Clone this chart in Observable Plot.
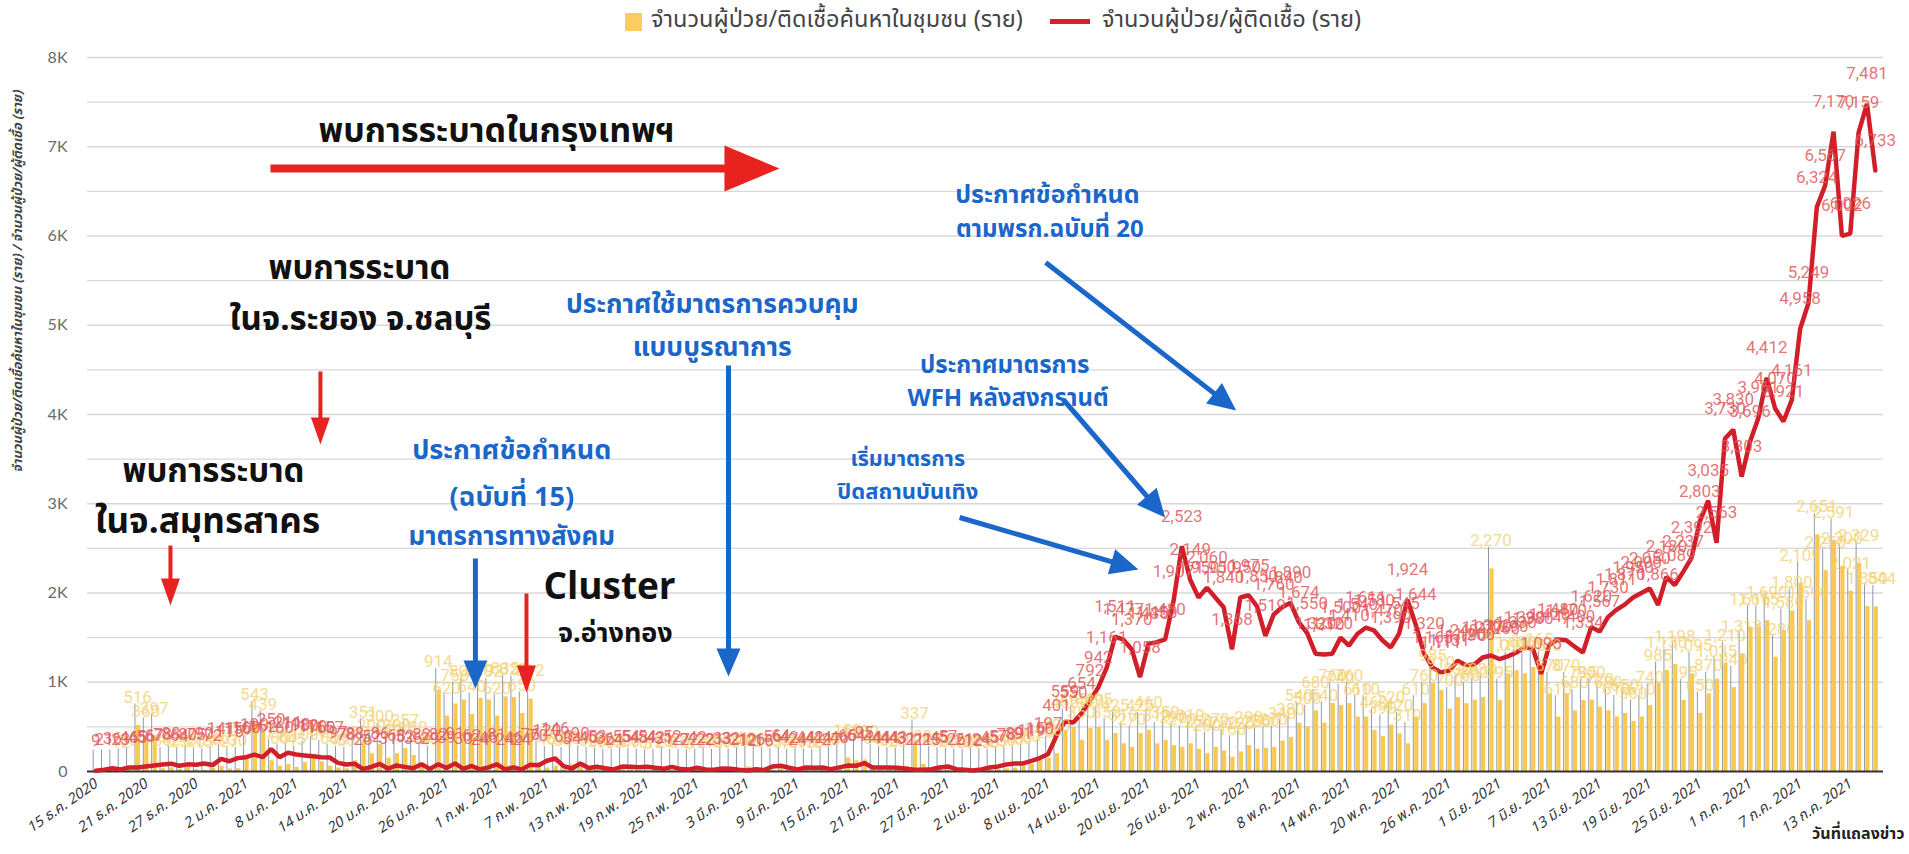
<!DOCTYPE html>
<html><head><meta charset="utf-8">
<script src="https://cdn.jsdelivr.net/npm/d3@7"></script>
<script src="https://cdn.jsdelivr.net/npm/@observablehq/plot@0.6"></script>
<style>
html,body{margin:0;padding:0;background:#fff;}
body{width:1909px;height:854px;overflow:hidden;position:relative;font-family:"Noto Sans Thai","Noto Sans","Open Sans",sans-serif;}
#legend{position:absolute;left:0;top:0;width:1909px;height:44px;z-index:2;}
#legend .sw{position:absolute;}
#legend .lt{position:absolute;font-size:23.5px;color:#444;line-height:28px;white-space:nowrap;}
</style></head><body>
<div id="legend">
  <div class="sw" style="left:625px;top:13px;width:17px;height:18px;background:#fbcd5f;"></div>
  <div class="lt" id="lt1" style="left:651px;top:6px;"></div>
  <div class="sw" style="left:1050px;top:19px;width:40px;height:5px;background:#d6202a;"></div>
  <div class="lt" id="lt2" style="left:1102px;top:6px;"></div>
</div>
<div id="chart"></div>
<script>
// ---- data (15 Dec 2020 .. 16 Jul 2021, one value per day) ----
const startDate = "2020-12-15";
const seriesNames = ["จำนวนผู้ป่วย/ติดเชื้อค้นหาในชุมชน (ราย)", "จำนวนผู้ป่วย/ผู้ติดเชื้อ (ราย)"];
const thMonths = ["ม.ค.","ก.พ.","มี.ค.","เม.ย.","พ.ค.","มิ.ย.","ก.ค.","ส.ค.","ก.ย.","ต.ค.","พ.ย.","ธ.ค."];
const yTicks = [0,1000,2000,3000,4000,5000,6000,7000,8000];
const yTickLabels = ["0","1K","2K","3K","4K","5K","6K","7K","8K"];

const redValues = [
  9,21,36,23,46,45,56,67,78,88,64,80,75,90,72,141,115,
  150,160,190,162,250,160,211,190,180,170,160,157,97,78,
  88,26,52,86,31,68,52,36,82,29,82,39,91,30,62,24,46,81,24,46,24,76,70,
  120,146,60,34,90,40,
  53,36,24,55,54,48,54,42,31,52,27,22,42,22,21,33,32,21,12,26,16,56,64,42,24,44,42,44,
  27,46,66,64,95,44,44,44,43,31,21,21,25,45,57,26,
  21,12,24,45,57,78,89,91,119,150,197,401,559,550,654,792,942,1161,1511,1477,1370,1058,
  1430,1450,1480,1907,2523,2149,1950,2060,1950,1840,1368,1950,1975,1850,1519,1760,1840,1890,1674,1550,
  1320,1310,1320,1500,1410,1540,1611,1580,1470,1390,1545,1924,1644,1320,1165,
  1111,1131,1240,1190,1200,1277,1300,1260,1290,1330,1390,1380,1095,1420,1480,1470,1400,1334,1620,1567,
  1730,1811,1870,1950,2000,
  2050,1866,2180,2089,2237,2392,2803,3035,2563,3730,3830,3303,3696,3961,4412,4070,3921,4161,4958,5249,
  6324,6567,7170,6002,6026,7159,7481,6733
];
const yellowValues = [
  0,0,0,12,30,516,360,397,30,42,25,48,20,15,38,60,27,30,
  160,543,439,120,60,80,45,100,150,110,60,40,30,
  120,351,200,300,150,200,257,180,60,40,
  914,620,756,802,640,819,802,620,835,829,650,812,100,
  40,60,30,80,50,30,20,10,15,30,
  20,10,5,12,20,8,10,5,12,30,
  10,20,15,30,50,40,25,15,30,10,
  20,15,10,20,40,60,150,120,130,60,
  40,30,20,60,337,80,40,30,20,15,
  10,20,15,10,25,30,40,60,80,120,
  150,
  200,460,495,350,480,495,350,425,310,270,
  425,460,310,350,290,270,310,250,200,270,
  230,160,220,290,250,260,270,340,380,540,
  500,680,540,760,740,760,610,610,460,390,
  520,420,310,610,760,985,910,700,830,760,
  800,830,2270,795,1095,1130,1095,1165,1100,870,
  610,870,680,795,800,720,680,610,650,560,610,
  740,985,1130,1198,795,1095,650,870,1035,1210,
  940,1313,1616,1615,1690,1280,1580,1800,2109,1690,
  2651,2250,2591,2300,2021,2329,1850,1844
];

// annotations (x in day index, y in cases)
const blackNotes = [
  {t:"พบการระบาดในกรุงเทพฯ", d:47.97, v:7171, s:34},
  {t:"พบการระบาด", d:31.57, v:5636, s:33},
  {t:"ในจ.ระยอง จ.ชลบุรี", d:31.69, v:5064, s:33},
  {t:"พบการระบาด", d:14.1, v:3361, s:33},
  {t:"ในจ.สมุทรสาคร", d:13.38, v:2801, s:35},
  {t:"Cluster", d:61.5, v:2062, s:37},
  {t:"จ.อ่างทอง", d:62.2, v:1546, s:27}
];
const blueNotes = [
  {t:"ประกาศข้อกำหนด", d:49.8, v:3597, s:27},
  {t:"(ฉบับที่ 15)", d:49.8, v:3070, s:27},
  {t:"มาตรการทางสังคม", d:49.8, v:2633, s:26},
  {t:"ประกาศใช้มาตรการควบคุม", d:73.8, v:5232, s:26.5},
  {t:"แบบบูรณาการ", d:73.8, v:4751, s:26.5},
  {t:"ประกาศข้อกำหนด", d:113.9, v:6454, s:25},
  {t:"ตามพรก.ฉบับที่ 20", d:114.2, v:6073, s:24},
  {t:"ประกาศมาตรการ", d:108.8, v:4549, s:24},
  {t:"WFH หลังสงกรานต์", d:109.2, v:4179, s:24},
  {t:"เริ่มมาตรการ", d:97.2, v:3496, s:21.5},
  {t:"ปิดสถานบันเทิง", d:97.2, v:3137, s:22}
];
const arrows = [
  {d1:20.92, v1:6756, d2:81.84, v2:6756, c:"#e8231f", w:8, L:55, hw:46},
  {d1:26.9, v1:4482, d2:26.9, v2:3664, c:"#e8231f", w:4, L:27, hw:19},
  {d1:8.95, v1:2532, d2:8.95, v2:1860, c:"#e8231f", w:4, L:27, hw:19},
  {d1:51.56, v1:1994, d2:51.56, v2:885, c:"#e8231f", w:4, L:27, hw:19},
  {d1:45.45, v1:2387, d2:45.45, v2:930, c:"#1a66c9", w:5, L:28, hw:24},
  {d1:75.74, v1:4549, d2:75.74, v2:1064, c:"#1a66c9", w:5, L:28, hw:24},
  {d1:113.7, v1:5703, d2:136.5, v2:4045, c:"#1a66c9", w:5, L:28, hw:26},
  {d1:115.8, v1:4168, d2:128.0, v2:2846, c:"#1a66c9", w:5, L:28, hw:26},
  {d1:103.4, v1:2846, d2:124.8, v2:2263, c:"#1a66c9", w:5, L:28, hw:26}
];

// ---- layout ----
const W = 1909, H = 854, mT = 57, mB = 83, mL = 87, mR = 26, inset = 4;
const N = redValues.length;
const t0 = Date.parse(startDate + "T00:00:00Z");
const data = d3.range(N).map(i => ({i, red: redValues[i], yellow: yellowValues[i] ?? 0}));
const fmt = d3.format(",");
const dayLabel = i => { const dt = new Date(t0 + i*864e5); return `${dt.getUTCDate()} ${thMonths[dt.getUTCMonth()]} ${dt.getUTCFullYear()}`; };
const kx = (W - mL - mR - 2*inset) / N, ky = (H - mT - mB) / 8000;

const FONT = '"Noto Sans Thai","Noto Sans","Open Sans",sans-serif';
document.getElementById("lt1").textContent = seriesNames[0];
document.getElementById("lt2").textContent = seriesNames[1];

function arrowMarks(a){
  const px = (a.d2 - a.d1) * kx, py = -(a.v2 - a.v1) * ky;
  const len = Math.hypot(px, py), ux = px/len, uy = py/len;
  const ang = Math.atan2(ux, -uy) * 180 / Math.PI;
  const back = a.L * 0.85;
  const e = {d: a.d2 - back*ux/kx, v: a.v2 + back*uy/ky};
  const head = {draw(ctx){ ctx.moveTo(0,0); ctx.lineTo(-a.hw/2, a.L); ctx.lineTo(a.hw/2, a.L); ctx.closePath(); }};
  return [
    Plot.link([a], {x1:"d1", y1:"v1", x2: () => e.d, y2: () => e.v, stroke: a.c, strokeWidth: a.w, strokeLinecap: "butt"}),
    Plot.dot([a], {x:"d2", y:"v2", symbol: head, r: 10, fill: a.c, stroke: "none", rotate: ang})
  ];
}

const chart = Plot.plot({
  width: W, height: H,
  marginTop: mT, marginBottom: mB, marginLeft: mL, marginRight: mR,
  style: {fontFamily: FONT, background: "#fff", overflow: "visible"},
  x: {type: "linear", domain: [-0.5, N - 0.5], insetLeft: inset, insetRight: inset, axis: null},
  y: {domain: [0, 8000], axis: null},
  marks: [
    Plot.ruleY(d3.range(500, 8001, 500), {stroke: "#d8d8d8", strokeWidth: 1.3}),
    Plot.axisY({ticks: yTicks, tickFormat: d => yTickLabels[yTicks.indexOf(d)], tickSize: 0, tickPadding: 20, fontSize: 16, color: "#6a6a6a", fontFamily: "Lato, sans-serif", label: null}),
    Plot.axisX({ticks: d3.range(0, N, 6), tickFormat: dayLabel, tickRotate: -35, tickSize: 0, tickPadding: 11, fontSize: 14.5, fontStyle: "italic", color: "#333", label: null}),
    Plot.ruleX(data, {x: "i", y1: 0, y2: d => d.yellow + 240, stroke: "#8d99ab", strokeWidth: 1, dx: -2.5}),
    Plot.rect(data, {x1: d => d.i - 0.25, x2: d => d.i + 0.25, y1: 0, y2: "yellow", fill: "#f9c84f", dx: 1}),
    Plot.ruleY([0], {stroke: "#333", strokeWidth: 2}),
    Plot.line(data, {x: "i", y: "red", stroke: "#d11f29", strokeWidth: 4.5, strokeLinejoin: "miter"}),
    Plot.text(data.filter(d => d.yellow > 0), {x: "i", y: "yellow", text: d => fmt(d.yellow), dy: -28, fill: "#f3d070", fillOpacity: 0.8, fontSize: 17, fontFamily: "Roboto, sans-serif"}),
    Plot.text(data, {x: "i", y: "red", text: d => fmt(d.red), dy: -30, fill: "#df5a5d", fillOpacity: 0.85, fontSize: 17, fontFamily: "Roboto, sans-serif"}),
    ...arrows.flatMap(arrowMarks),
    Plot.text(blackNotes, {x: "d", y: "v", text: "t", fontSize: "s", fill: "#111", fontWeight: "bold"}),
    Plot.text(blueNotes, {x: "d", y: "v", text: "t", fontSize: "s", fill: "#1a66c9", fontWeight: "bold"}),
    Plot.text([seriesNames[0] + " / " + seriesNames[1]], {frameAnchor: "left", dx: -70, dy: 58, rotate: -90, fontSize: 13, fontStyle: "italic", fontWeight: "bold", fill: "#444"}),
    Plot.text(["วันที่แถลงข่าว"], {frameAnchor: "bottom-right", dx: 21, dy: 67, textAnchor: "end", fontSize: 16, fontWeight: "bold", fill: "#222"})
  ]
});
document.getElementById("chart").appendChild(chart);
</script>
</body></html>
